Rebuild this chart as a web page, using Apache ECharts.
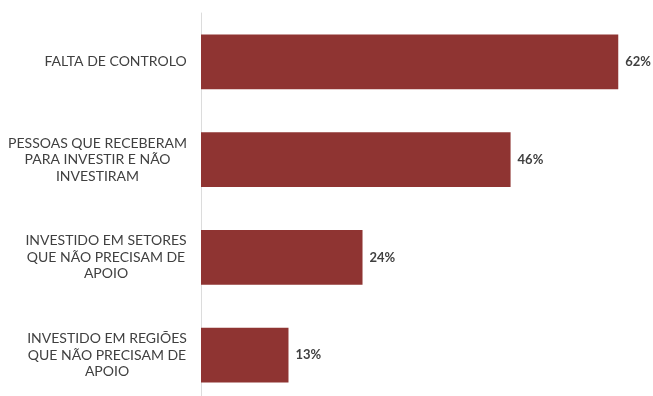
<!DOCTYPE html>
<html><head><meta charset="utf-8">
<script src="https://cdn.jsdelivr.net/npm/echarts@6/dist/echarts.min.js"></script>
<style>html,body{margin:0;padding:0;background:#fff}#c{width:653px;height:396px}</style>
</head><body><div id="c"></div>
<script>
const categories = [
  "FALTA DE CONTROLO",
  "PESSOAS QUE RECEBERAM\nPARA INVESTIR E NÃO\nINVESTIRAM",
  "INVESTIDO EM SETORES\nQUE NÃO PRECISAM DE\nAPOIO",
  "INVESTIDO EM REGIÕES\nQUE NÃO PRECISAM DE\nAPOIO"
];
const values = [62, 46, 24, 13];

const labelFont = {family: 'Lato', size: 14, weight: 'normal'};
const ctx = document.createElement('canvas').getContext('2d');
ctx.font = labelFont.weight + ' ' + labelFont.size + 'px ' + labelFont.family;
const rich = {};
categories.forEach((c, i) => {
  const w = Math.max(...c.split('\n').map(l => ctx.measureText(l).width));
  rich['b' + i] = {width: Math.ceil(w), align: 'center', fontFamily: labelFont.family, fontSize: labelFont.size, fontWeight: labelFont.weight, color: '#404040', lineHeight: 16.5};
});

const chart = echarts.init(document.getElementById('c'), null, {renderer: 'canvas'});
chart.setOption({
  animation: false,
  backgroundColor: '#ffffff',
  grid: {left: 201, top: 13, width: 538.4, height: 391, containLabel: false, outerBoundsMode: 'none'},
  xAxis: {type: 'value', min: 0, max: 80, show: false},
  yAxis: {
    type: 'category', data: categories, inverse: true,
    axisLine: {show: true, lineStyle: {color: '#dcdcdc', width: 1}},
    axisTick: {show: false},
    splitLine: {show: false},
    axisLabel: {align: 'right', margin: 14, rich: rich,
      formatter: (v, idx) => v.split('\n').map(l => '{b' + idx + '|' + l + '}').join('\n')}
  },
  series: [{
    type: 'bar', data: values, barCategoryGap: '44%',
    itemStyle: {color: '#8f3432'},
    label: {show: true, position: 'right', distance: 7, formatter: '{c}%', color: '#404040', fontFamily: 'Lato', fontSize: 13, fontWeight: 'bold'}
  }]
});
</script></body></html>
